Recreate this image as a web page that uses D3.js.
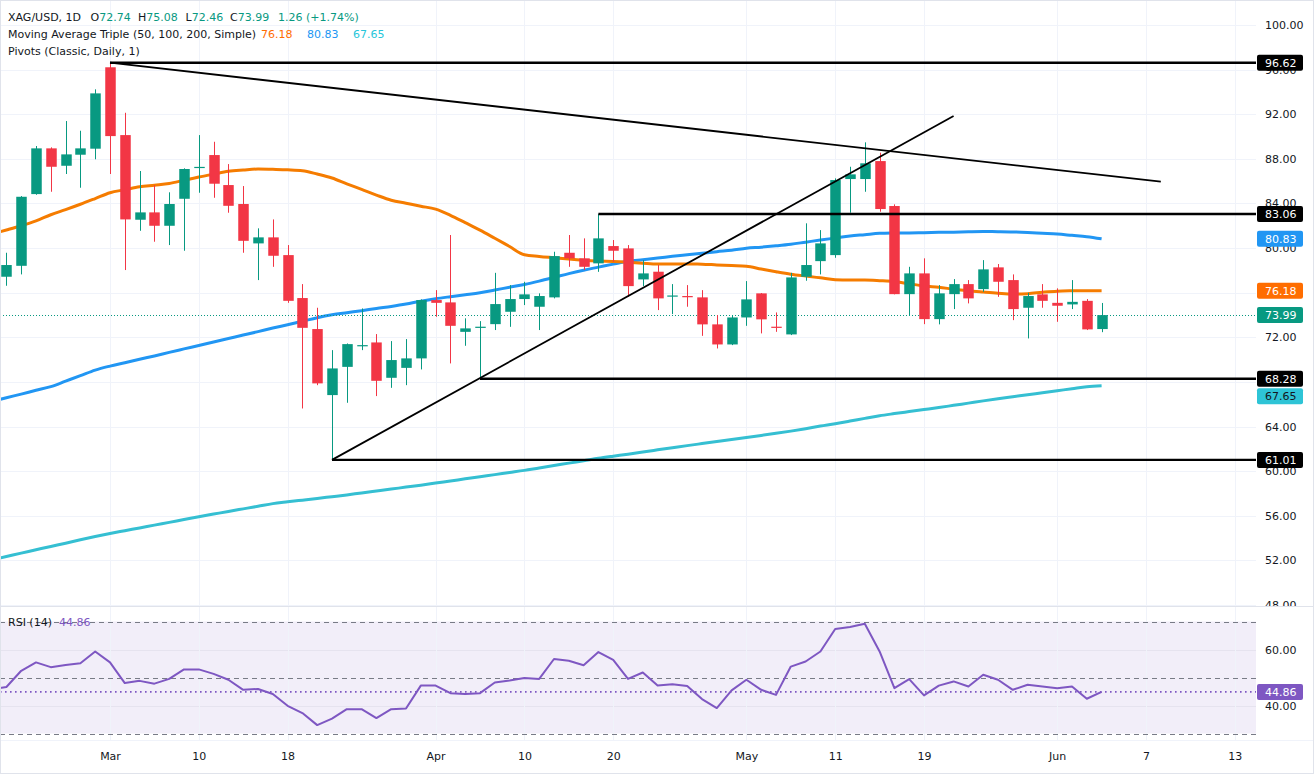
<!DOCTYPE html>
<html><head><meta charset="utf-8">
<script src="https://cdn.jsdelivr.net/npm/d3@7"></script>
<style>
html,body{margin:0;padding:0;background:#fff;}
svg{display:block;font-family:"DejaVu Sans",Verdana,sans-serif;}
</style></head><body>
<svg id="chart" width="1314" height="774"></svg>
<script>
// ---------------- DATA ----------------
// candle index 0 = 2 Mar; first candle index -7
const firstIdx = -7;
const dates = ["Feb 19","Feb 20","Feb 23","Feb 24","Feb 25","Feb 26","Feb 27",
 "Mar 2","Mar 3","Mar 4","Mar 5","Mar 6","Mar 9","Mar 10","Mar 11","Mar 12","Mar 13","Mar 16","Mar 17","Mar 18","Mar 19","Mar 20","Mar 23","Mar 24","Mar 25","Mar 26","Mar 27","Mar 30","Mar 31",
 "Apr 1","Apr 2","Apr 6","Apr 7","Apr 8","Apr 9","Apr 10","Apr 13","Apr 14","Apr 15","Apr 16","Apr 17","Apr 20","Apr 21","Apr 22","Apr 23","Apr 24","Apr 27","Apr 28","Apr 29","Apr 30",
 "May 1","May 4","May 5","May 6","May 7","May 8","May 11","May 12","May 13","May 14","May 15","May 18","May 19","May 20","May 21","May 22","May 25","May 26","May 27","May 28","May 29",
 "Jun 1","Jun 2","Jun 3","Jun 4"];
const openP  = [77.43,78.41,84.84,88.94,87.38,88.37,88.91,
 96.21,90.13,82.54,83.20,82.00,84.42,87.20,88.34,85.65,83.95,80.42,80.96,79.37,75.52,72.74,66.82,69.35,71.22,71.54,68.37,69.26,70.11,
 75.34,75.13,72.49,72.85,73.18,74.29,75.43,74.74,75.58,79.58,79.08,78.63,80.18,79.97,77.19,77.88,75.65,75.70,75.58,73.16,71.36,
 73.78,75.94,72.95,72.26,77.43,78.83,79.37,86.19,86.19,87.80,83.77,75.87,77.73,73.63,75.87,76.77,76.32,78.27,77.13,74.65,75.85,
 75.09,74.95,75.27,72.74];
const highP  = [79.58,84.66,89.15,89.03,91.39,90.52,94.23,
 96.62,92.13,86.91,85.65,85.00,87.15,90.13,89.53,87.53,85.56,81.77,82.57,80.27,76.77,74.65,70.85,71.45,74.59,72.29,71.66,71.84,75.40,
 76.23,81.17,73.70,73.45,77.78,76.68,76.98,75.94,79.67,81.17,80.87,83.06,80.72,80.27,78.92,78.48,76.77,76.68,76.23,73.99,73.99,
 77.04,75.97,74.23,77.78,82.22,81.61,86.25,87.29,89.48,88.55,83.92,78.32,79.08,76.68,77.22,77.13,78.92,78.57,77.64,75.99,76.77,
 76.39,77.13,75.43,75.08];
const lowP   = [76.62,77.64,84.78,85.05,86.64,85.41,87.96,
 86.64,78.03,81.55,80.57,80.27,79.76,84.96,84.51,83.17,79.58,77.13,78.32,75.09,65.62,67.71,61.01,66.13,70.85,66.73,67.47,67.71,69.12,
 73.84,69.66,71.24,68.28,72.65,72.94,74.89,72.65,75.49,78.32,78.03,77.87,78.77,75.63,76.59,74.44,74.08,74.74,72.13,71.00,71.30,
 73.03,72.35,72.49,72.20,77.07,77.64,79.13,83.17,85.05,83.26,75.85,73.93,73.18,73.16,74.53,75.04,76.08,75.63,73.54,71.90,74.65,
 73.39,74.53,72.65,72.46];
const closeP = [78.48,84.60,88.94,87.29,88.40,88.94,93.87,
 90.04,82.57,83.20,82.00,83.95,87.09,87.28,85.77,83.79,80.65,80.96,79.31,75.27,72.85,67.87,69.21,71.39,71.30,68.10,69.96,70.11,75.34,
 75.09,73.03,72.80,72.95,74.98,75.43,75.85,75.70,79.28,79.08,78.32,80.87,79.76,76.59,77.73,75.49,75.75,75.60,73.16,71.36,73.78,
 75.40,73.61,72.85,77.37,78.48,80.42,86.10,86.61,87.60,83.50,75.87,77.73,73.63,75.94,76.77,75.49,78.09,76.98,74.53,75.70,75.27,
 74.83,75.18,72.71,73.99];

// indicators start one bar earlier (index -8), the bar just left of the view
const indStart = -8;
const ma50 = [81.26,81.62,82.00,82.44,82.99,83.45,83.93,84.44,
 84.96,85.23,85.50,85.64,85.79,86.08,86.37,86.63,86.88,87.00,87.09,87.06,87.02,86.94,86.64,86.28,85.76,85.26,84.75,84.29,84.02,83.75,
 83.49,82.94,82.28,81.61,80.88,80.14,79.40,79.25,79.13,79.01,78.91,78.84,78.80,78.73,78.64,78.57,78.57,78.57,78.56,78.49,78.43,
 78.37,78.12,77.88,77.66,77.49,77.33,77.17,77.13,77.13,77.08,77.00,76.80,76.61,76.48,76.32,76.17,76.06,75.96,75.89,75.91,76.04,
 76.14,76.17,76.18,76.18];
const ma100 = [66.24,66.58,66.91,67.25,67.58,68.07,68.56,69.06,
 69.42,69.72,70.03,70.33,70.65,70.96,71.27,71.58,71.89,72.20,72.51,72.83,73.13,73.44,73.76,74.02,74.21,74.39,74.59,74.77,74.98,75.24,
 75.46,75.64,75.81,75.99,76.24,76.49,76.74,77.04,77.37,77.71,78.02,78.29,78.56,78.82,78.96,79.10,79.26,79.40,79.54,79.68,79.80,
 79.98,80.08,80.20,80.34,80.53,80.72,80.90,81.08,81.20,81.32,81.35,81.36,81.38,81.41,81.43,81.46,81.48,81.47,81.45,81.40,81.33,
 81.26,81.14,81.02,80.83];
const ma200 = [52.05,52.35,52.65,52.95,53.25,53.54,53.85,54.14,
 54.41,54.66,54.91,55.16,55.41,55.66,55.91,56.15,56.39,56.62,56.85,57.09,57.25,57.40,57.55,57.71,57.87,58.05,58.22,58.39,58.57,58.74,
 58.93,59.12,59.31,59.50,59.69,59.88,60.07,60.29,60.50,60.72,60.93,61.15,61.34,61.52,61.72,61.91,62.10,62.29,62.47,62.65,62.83,
 63.02,63.20,63.39,63.59,63.81,64.04,64.25,64.49,64.73,64.97,65.16,65.34,65.52,65.70,65.90,66.10,66.30,66.49,66.67,66.85,67.03,
 67.21,67.39,67.57,67.65];
const rsi14 = [45.8,46.6,52.4,55.4,53.7,54.5,55.1,59.3,
 55.4,48.0,48.8,47.8,49.5,52.9,52.9,51.3,49.2,45.6,45.9,44.1,39.9,37.3,33.0,35.3,38.7,38.7,35.5,38.7,38.9,47.1,
 47.1,44.4,44.1,44.4,48.2,48.9,49.8,49.5,56.6,56.0,54.4,59.1,56.3,49.5,51.8,47.1,47.6,47.0,42.3,39.1,45.4,
 49.2,45.6,43.8,53.9,55.7,59.3,67.3,68.0,69.2,59.3,46.2,49.4,43.6,47.1,48.6,46.8,51.0,49.2,45.6,47.4,46.8,
 46.2,46.8,42.4,44.86];

const xTickIdx    = [0,6,12,22,28,34,43,49,55,64,70,76];
const xTickLabels = ["Mar","10","18","Apr","10","20","May","11","19","Jun","7","13"];
const priceTicks  = [48,52,56,60,64,68,72,76,80,84,88,92,96,100];
const rsiTicks    = [40,60];
const rsiBands    = [70,50,30];

const pivotLevels = [96.62,83.06,68.28,61.01];
const pivotFrom   = [0,33,25,15];
const trendDown   = [[0,96.62],[71,85.95]];
const trendUp     = [[15,61.01],[57,91.84]];

const lastClose = 73.99, lastRsi = 44.86;
const maLast = [76.18,80.83,67.65];

// ---------------- LAYOUT ----------------
const W = 1314, H = 774;
const plotR = 1256, mainB = 606, rsiT = 607, rsiB = 740;
const C = {up:"#089981", down:"#F23645", ma50:"#F57C00", ma50lab:"#FF6D00", ma100:"#2196F3", ma200:"#35BFD2",
           rsi:"#7E57C2", grid:"#F0F3FA", text:"#131722", border:"#E0E3EB"};

const svg = d3.select("#chart");
const x = d3.scaleLinear().domain([0,76]).range([110, 110 + 14.8*76]);
const y = d3.scaleLinear().domain([48,100]).range([605,25]);
const yr = d3.scaleLinear().domain([30,70]).range([733.5,621.5]);

const defs = svg.append("defs");
defs.append("clipPath").attr("id","mainClip").append("rect").attr("x",0).attr("y",0).attr("width",plotR).attr("height",mainB);
defs.append("clipPath").attr("id","rsiClip").append("rect").attr("x",0).attr("y",rsiT).attr("width",plotR).attr("height",rsiB-rsiT);
defs.append("clipPath").attr("id","axisClip").append("rect").attr("x",plotR).attr("y",0).attr("width",W-plotR).attr("height",mainB);

svg.append("rect").attr("width",W).attr("height",H).attr("fill","#fff");

// RSI band background
svg.append("rect").attr("x",0).attr("y",yr(70)).attr("width",plotR).attr("height",yr(30)-yr(70))
  .attr("fill","rgba(126,87,194,0.1)");

// grid
const gGrid = svg.append("g");
gGrid.selectAll("line.h").data(priceTicks).join("line")
  .attr("x1",0).attr("x2",plotR).attr("y1",d=>Math.round(y(d))+0.5).attr("y2",d=>Math.round(y(d))+0.5)
  .attr("stroke",C.grid).attr("stroke-width",1).attr("clip-path","url(#mainClip)");
gGrid.selectAll("line.hr").data(rsiTicks).join("line")
  .attr("x1",0).attr("x2",plotR).attr("y1",d=>Math.round(yr(d))+0.5).attr("y2",d=>Math.round(yr(d))+0.5)
  .attr("stroke","#E6E3EF").attr("stroke-width",1);
gGrid.selectAll("line.v").data(xTickIdx).join("line")
  .attr("x1",d=>Math.round(x(d))+0.5).attr("x2",d=>Math.round(x(d))+0.5).attr("y1",0).attr("y2",rsiB)
  .attr("stroke",C.grid).attr("stroke-width",1);

// pane separators
svg.append("line").attr("x1",0).attr("x2",W).attr("y1",mainB+0.5).attr("y2",mainB+0.5).attr("stroke",C.border);
svg.append("line").attr("x1",0).attr("x2",W).attr("y1",rsiB+0.5).attr("y2",rsiB+0.5).attr("stroke","#F0F3FA");

// ---------- main pane ----------
const gMain = svg.append("g").attr("clip-path","url(#mainClip)");

const line = (arr, sc) => d3.line().x((d,j)=>x(indStart + j)).y(d=>sc(d)).curve(d3.curveMonotoneX)(arr);
gMain.append("path").attr("d",line(ma200,y)).attr("fill","none").attr("stroke",C.ma200).attr("stroke-width",3);
gMain.append("path").attr("d",line(ma100,y)).attr("fill","none").attr("stroke",C.ma100).attr("stroke-width",3);
gMain.append("path").attr("d",line(ma50,y)).attr("fill","none").attr("stroke",C.ma50).attr("stroke-width",3);

// price line
gMain.append("line").attr("x1",0).attr("x2",plotR).attr("y1",Math.round(y(lastClose))+0.5).attr("y2",Math.round(y(lastClose))+0.5)
  .attr("stroke",C.up).attr("stroke-width",1).attr("stroke-dasharray","1,2");

// candles
const candles = closeP.map((c,k)=>({i:firstIdx+k, o:openP[k], h:highP[k], l:lowP[k], c:c, d:dates[k]}));
const bw = 10.5;
const gC = gMain.append("g");
const cg = gC.selectAll("g").data(candles).join("g");
cg.append("line")
  .attr("x1",d=>Math.round(x(d.i))+0.5).attr("x2",d=>Math.round(x(d.i))+0.5)
  .attr("y1",d=>y(d.h)).attr("y2",d=>y(d.l))
  .attr("stroke",d=>d.c>=d.o?C.up:C.down).attr("stroke-width",1);
cg.append("rect")
  .attr("x",d=>Math.round(x(d.i))+0.5-bw/2).attr("width",bw)
  .attr("y",d=>y(Math.max(d.o,d.c)))
  .attr("height",d=>Math.max(1.2, Math.abs(y(d.o)-y(d.c))))
  .attr("fill",d=>d.c>=d.o?C.up:C.down);

// drawings
const gD = gMain.append("g");
gD.selectAll("line.piv").data(pivotLevels).join("line")
  .attr("x1",(d,k)=>x(pivotFrom[k])).attr("x2",plotR)
  .attr("y1",d=>y(d)).attr("y2",d=>y(d))
  .attr("stroke","#000").attr("stroke-width",2.4);
[trendDown, trendUp].forEach(t=>{
  gD.append("line").attr("x1",x(t[0][0])).attr("y1",y(t[0][1])).attr("x2",x(t[1][0])).attr("y2",y(t[1][1]))
    .attr("stroke","#000").attr("stroke-width",1.8);
});

// ---------- RSI pane ----------
const gR = svg.append("g").attr("clip-path","url(#rsiClip)");
gR.selectAll("line.band").data(rsiBands).join("line")
  .attr("x1",0).attr("x2",plotR).attr("y1",d=>Math.round(yr(d))+0.5).attr("y2",d=>Math.round(yr(d))+0.5)
  .attr("stroke","#787B86").attr("stroke-width",1).attr("stroke-dasharray","5,4");
gR.append("line").attr("x1",0).attr("x2",plotR).attr("y1",yr(lastRsi)).attr("y2",yr(lastRsi))
  .attr("stroke",C.rsi).attr("stroke-width",1.6).attr("stroke-dasharray","1.6,3.4");
gR.append("path").attr("d",d3.line().x((d,j)=>x(indStart+j)).y(d=>yr(d))(rsi14))
  .attr("fill","none").attr("stroke",C.rsi).attr("stroke-width",2).attr("stroke-linejoin","round");

// ---------- axes ----------
const yAxis = d3.axisRight(y).tickValues(priceTicks).tickFormat(d3.format(".2f")).tickSize(0).tickPadding(0);
svg.append("g").attr("clip-path","url(#axisClip)")
  .append("g").attr("transform","translate(1265,0)").call(yAxis)
  .call(g=>g.select(".domain").remove())
  .call(g=>g.selectAll("text").attr("font-family","DejaVu Sans").attr("font-size",11).attr("fill",C.text));

const rAxis = d3.axisRight(yr).tickValues(rsiTicks).tickFormat(d3.format(".2f")).tickSize(0).tickPadding(0);
svg.append("g").attr("transform","translate(1265,0)").call(rAxis)
  .call(g=>g.select(".domain").remove())
  .call(g=>g.selectAll("text").attr("font-family","DejaVu Sans").attr("font-size",11).attr("fill",C.text));

const xAxis = d3.axisBottom(x).tickValues(xTickIdx).tickFormat((d,k)=>xTickLabels[k]).tickSize(0).tickPadding(0);
svg.append("g").attr("transform","translate(0,752)").call(xAxis)
  .call(g=>g.select(".domain").remove())
  .call(g=>g.selectAll("text").attr("font-family","DejaVu Sans").attr("font-size",11).attr("fill",C.text));

// value labels on price scale (stacked so they never overlap)
const mainLabels = [
  {v:pivotLevels[0], bg:"#000", fg:"#fff"},
  {v:pivotLevels[1], bg:"#000", fg:"#fff"},
  {v:maLast[1], bg:C.ma100, fg:"#fff"},
  {v:maLast[0], bg:C.ma50lab, fg:"#fff"},
  {v:lastClose, bg:C.up, fg:"#fff"},
  {v:pivotLevels[2], bg:"#000", fg:"#fff"},
  {v:maLast[2], bg:"#2EC4D6", fg:C.text},
  {v:pivotLevels[3], bg:"#000", fg:"#fff"}
].map(L=>({...L, cy:y(L.v)})).sort((a,b)=>a.cy-b.cy);
const boxH = 16, boxGap = 17.5;
for (let k=1;k<mainLabels.length;k++){
  if (mainLabels[k].cy - mainLabels[k-1].cy < boxGap) mainLabels[k].cy = mainLabels[k-1].cy + boxGap;
}
const allLabels = mainLabels.concat([{v:lastRsi, bg:C.rsi, fg:"#fff", cy:yr(lastRsi)}]);
const gL = svg.append("g");
allLabels.forEach(L=>{
  gL.append("rect").attr("x",1257).attr("y",L.cy-boxH/2).attr("width",46).attr("height",boxH).attr("rx",2).attr("fill",L.bg);
  gL.append("text").attr("x",1265).attr("y",L.cy).attr("dy","0.36em").attr("font-size",11).attr("fill",L.fg).text(d3.format(".2f")(L.v));
});

// ---------- legend ----------
const lg = svg.append("g").attr("font-size",11).attr("fill",C.text);
const t1 = lg.append("text").attr("x",8).attr("y",21);
t1.append("tspan").text("XAG/USD, 1D");
[["O",openP],["H",highP],["L",lowP],["C",closeP]].forEach((p,k)=>{
  t1.append("tspan").attr("x",[90.5,138,185.5,230][k]).text(p[0]);
  t1.append("tspan").attr("fill",C.up).text(d3.format(".2f")(p[1][p[1].length-1]));
});
t1.append("tspan").attr("x",278).attr("fill",C.up).text("1.26 (+1.74%)");
const t2 = lg.append("text").attr("x",8).attr("y",38);
t2.append("tspan").text("Moving Average Triple (50, 100, 200, Simple)");
t2.append("tspan").attr("x",261).attr("fill",C.ma50lab).text(d3.format(".2f")(maLast[0]));
t2.append("tspan").attr("x",307).attr("fill",C.ma100).text(d3.format(".2f")(maLast[1]));
t2.append("tspan").attr("x",353).attr("fill","#26C6DA").text(d3.format(".2f")(maLast[2]));
lg.append("text").attr("x",8).attr("y",55).text("Pivots (Classic, Daily, 1)");

const tr = lg.append("text").attr("x",8).attr("y",626);
tr.append("tspan").text("RSI (14)");
tr.append("tspan").attr("x",59).attr("fill",C.rsi).text(d3.format(".2f")(lastRsi));

// border
svg.append("rect").attr("x",0.5).attr("y",0.5).attr("width",W-1).attr("height",H-1).attr("fill","none").attr("stroke",C.border);
</script>
</body></html>
